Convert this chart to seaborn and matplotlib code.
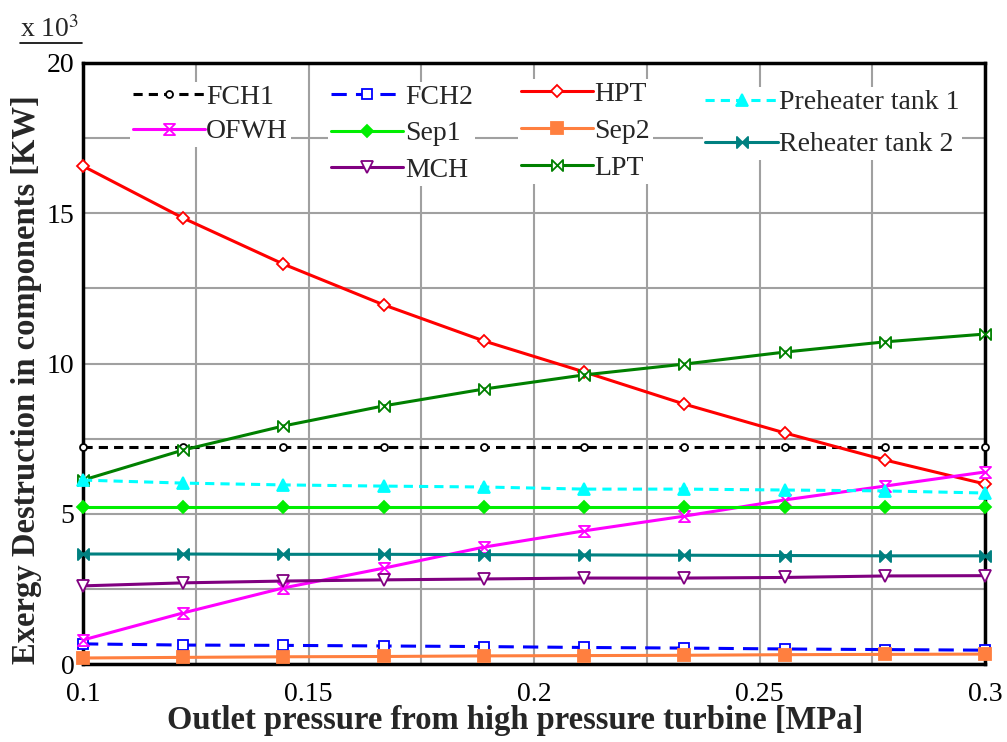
import numpy as np
import pandas as pd
import matplotlib
matplotlib.use("Agg")
import matplotlib.pyplot as plt
from matplotlib.path import Path
from matplotlib.lines import Line2D
import seaborn as sns

# Outlet pressure of the high pressure turbine [MPa]
pressure = [0.1, 0.1222, 0.1444, 0.1667, 0.1889, 0.2111, 0.2333, 0.2556, 0.2778, 0.3]

# Exergy destruction per component [x 10^3 KW]
fch1 = [7.22, 7.22, 7.22, 7.22, 7.22, 7.22, 7.22, 7.22, 7.22, 7.22]
fch2 = [0.67, 0.63, 0.62, 0.60, 0.58, 0.55, 0.53, 0.50, 0.48, 0.46]
hpt = [16.57, 14.84, 13.31, 11.95, 10.75, 9.72, 8.65, 7.69, 6.79, 5.99]
ofwh = [0.80, 1.70, 2.53, 3.19, 3.89, 4.43, 4.92, 5.46, 5.92, 6.39]
sep1 = [5.22, 5.22, 5.22, 5.22, 5.22, 5.22, 5.22, 5.22, 5.22, 5.22]
sep2 = [0.20, 0.22, 0.24, 0.25, 0.27, 0.28, 0.29, 0.31, 0.32, 0.33]
mch = [2.60, 2.70, 2.76, 2.80, 2.83, 2.86, 2.86, 2.88, 2.93, 2.94]
lpt = [6.12, 7.12, 7.92, 8.59, 9.15, 9.62, 9.98, 10.38, 10.72, 10.98]
preheater1 = [6.12, 6.02, 5.96, 5.92, 5.89, 5.82, 5.82, 5.79, 5.76, 5.69]
reheater2 = [3.66, 3.66, 3.65, 3.65, 3.64, 3.63, 3.62, 3.61, 3.60, 3.60]

x_ticks = [0.1, 0.15, 0.2, 0.25, 0.3]
x_tick_labels = ["0.1", "0.15", "0.2", "0.25", "0.3"]
y_ticks = [0, 5, 10, 15, 20]

sns.set_theme(style="white")
plt.rcParams["font.family"] = ["Liberation Serif", "DejaVu Serif"]
plt.rcParams["mathtext.fontset"] = "stix"

# custom marker shapes
hourglass = Path([(-1, 1), (1, 1), (-1, -1), (1, -1), (-1, 1)],
                 [Path.MOVETO, Path.LINETO, Path.LINETO, Path.LINETO, Path.CLOSEPOLY])
bowtie = Path([(-1, 1), (1, -1), (1, 1), (-1, -1), (-1, 1)],
              [Path.MOVETO, Path.LINETO, Path.LINETO, Path.LINETO, Path.CLOSEPOLY])

series = {
    "FCH1": dict(y=fch1, color="black", ls=(0, (3, 2)), marker="o", mfc="white", ms=5),
    "FCH2": dict(y=fch2, color="#0000ff", ls=(0, (5, 3)), marker="s", mfc="white", ms=7),
    "HPT": dict(y=hpt, color="#ff0000", ls="-", marker="D", mfc="white", ms=6),
    "OFWH": dict(y=ofwh, color="#ff00ff", ls="-", marker=hourglass, mfc="white", ms=8),
    "Sep1": dict(y=sep1, color="#00ee00", ls="-", marker="D", mfc="#00ee00", ms=6),
    "Sep2": dict(y=sep2, color="#ff7f3f", ls="-", marker="s", mfc="#ff7f3f", ms=8),
    "MCH": dict(y=mch, color="#800080", ls="-", marker="v", mfc="white", ms=8),
    "LPT": dict(y=lpt, color="#008000", ls="-", marker=bowtie, mfc="white", ms=8),
    "Preheater tank 1": dict(y=preheater1, color="#00ffff", ls=(0, (3, 2)), marker="^", mfc="#00ffff", ms=8),
    "Reheater tank 2": dict(y=reheater2, color="#008080", ls="-", marker=bowtie, mfc="#008080", ms=8),
}

fig = plt.figure(figsize=(10.07, 7.42), dpi=100)
ax = fig.add_axes([83 / 1007, 78 / 742, 902 / 1007, 601 / 742])

handles = {}
for name, st in series.items():
    sns.lineplot(x=pressure, y=st["y"], ax=ax, color=st["color"], linestyle=st["ls"],
                 linewidth=2.2, marker=st["marker"], markersize=st["ms"],
                 markerfacecolor=st["mfc"], markeredgecolor=st["color"],
                 markeredgewidth=1.3, legend=False, zorder=3, clip_on=False)
    handles[name] = Line2D([], [], color=st["color"], linestyle=st["ls"], linewidth=2.2,
                           marker=st["marker"], markersize=st["ms"],
                           markerfacecolor=st["mfc"], markeredgecolor=st["color"],
                           markeredgewidth=1.3)

ax.set_xlim(0.1, 0.3)
ax.set_ylim(0, 20)
ax.set_xticks(x_ticks)
ax.set_xticklabels(x_tick_labels)
ax.set_yticks(y_ticks)
ax.set_xticks(np.arange(0.1, 0.3001, 0.025), minor=True)
ax.set_yticks(np.arange(0, 20.01, 2.5), minor=True)
ax.grid(which="both", color="#a0a0a0", linewidth=1.5)
ax.set_axisbelow(True)
ax.tick_params(axis="both", which="both", length=0, labelsize=20, colors="black")
ax.tick_params(axis="x", pad=13)
ax.tick_params(axis="y", pad=6)
for sp in ax.spines.values():
    sp.set_color("black")
    sp.set_linewidth(2.5)

ax.set_xlabel("Outlet pressure from high pressure turbine [MPa]", fontsize=23.5,
              fontweight="bold")
ax.set_ylabel("Exergy Destruction in components [KW]", fontsize=23.5,
              fontweight="bold")
ax.xaxis.set_label_coords(0.479, -0.068)
ax.yaxis.set_label_coords(-0.046, 0.473)

# scale factor above the y axis
fig.text(50 / 1007, 1 - 30 / 742, r"x 10$^3$", fontsize=20, ha="center", va="center")
fig.add_artist(Line2D([20 / 1007, 82 / 1007], [1 - 43 / 742, 1 - 43 / 742],
                      color="black", linewidth=1.2))

# legend laid out in four columns
columns = [
    (["FCH1", "OFWH"], 0.052, 0.969, 0.33),
    (["FCH2", "Sep1", "MCH"], 0.272, 0.969, 0.4),
    (["HPT", "Sep2", "LPT"], 0.482, 0.974, 0.42),
    (["Preheater tank 1", "Reheater tank 2"], 0.687, 0.960, 0.6),
]
for names, lx, ly, spacing in columns:
    leg = ax.legend([handles[n] for n in names], names, loc="upper left",
                    bbox_to_anchor=(lx, ly), bbox_transform=ax.transAxes,
                    frameon=True, facecolor="white", edgecolor="none", framealpha=1,
                    fontsize=20, handlelength=2.6, handletextpad=0.05,
                    labelspacing=spacing, borderpad=0.1, borderaxespad=0,
                    fancybox=False)
    leg.set_zorder(5)
    ax.add_artist(leg)

fig.savefig("out.png", dpi=100)
